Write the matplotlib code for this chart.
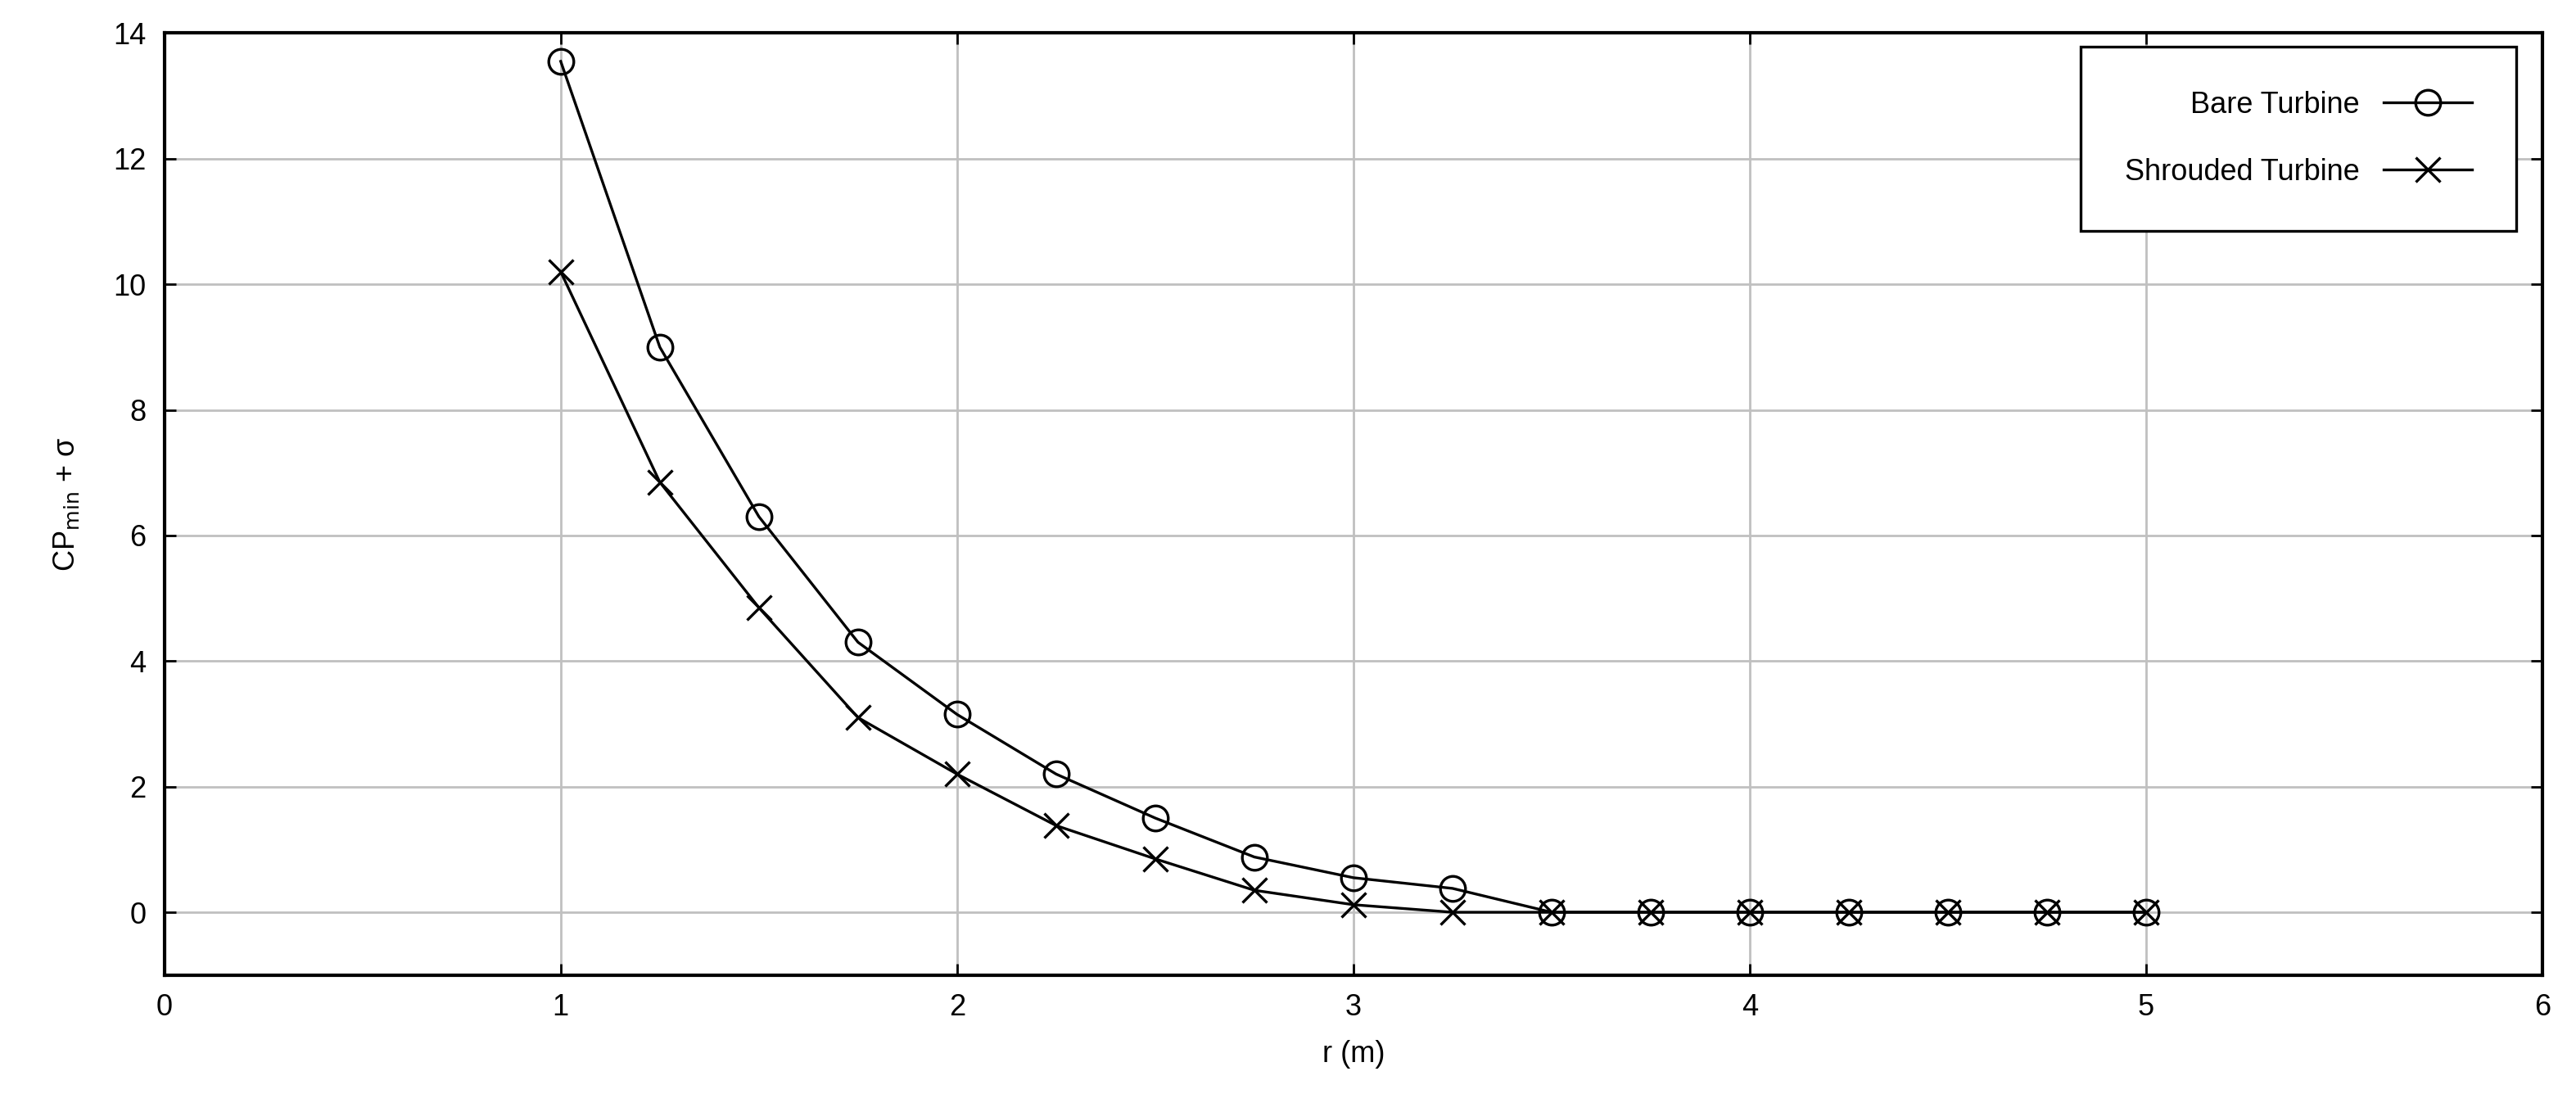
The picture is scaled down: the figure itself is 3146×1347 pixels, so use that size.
import numpy as np
import matplotlib.pyplot as plt

r = [1.0, 1.25, 1.5, 1.75, 2.0, 2.25, 2.5, 2.75, 3.0, 3.25, 3.5, 3.75, 4.0, 4.25, 4.5, 4.75, 5.0]
bare = [13.55, 9.0, 6.3, 4.3, 3.15, 2.2, 1.5, 0.88, 0.55, 0.38, 0.0, 0.0, 0.0, 0.0, 0.0, 0.0, 0.0]
shrouded = [10.2, 6.85, 4.85, 3.1, 2.2, 1.38, 0.85, 0.35, 0.12, 0.0, 0.0, 0.0, 0.0, 0.0, 0.0, 0.0, 0.0]

plt.rcParams["font.family"] = ["Liberation Sans", "DejaVu Sans"]
plt.rcParams["font.size"] = 13

fig = plt.figure(figsize=(15.73, 6.735), dpi=200)
ax = fig.add_axes([0.0638, 0.116, 0.9232, 0.854])

ax.plot(r, bare, color="black", lw=1.2, marker="o", ms=11, mfc="none",
        mec="black", mew=1.2, label="Bare Turbine")
ax.plot(r, shrouded, color="black", lw=1.2, marker="x", ms=11,
        mew=1.2, label="Shrouded Turbine")

ax.set_xlim(0, 6)
ax.set_ylim(-1, 14)
ax.set_xticks(range(0, 7))
ax.set_yticks(range(0, 15, 2))
ax.grid(True, color="#c0c0c0", lw=1.0)
ax.set_axisbelow(True)
for s in ax.spines.values():
    s.set_linewidth(1.5)
ax.tick_params(direction="in", length=5, width=1, top=True, right=True, pad=8)
ax.set_xlabel("r (m)", labelpad=8)
ax.set_ylabel(r"CP$_{\mathrm{min}}$ + σ", labelpad=14)

leg = ax.legend(loc="upper right", markerfirst=False, fancybox=False,
                edgecolor="black", framealpha=1, borderpad=1.5,
                labelspacing=1.3, handlelength=3.0, borderaxespad=0,
                bbox_to_anchor=(0.989, 0.986))
leg.get_frame().set_linewidth(1.2)
fig.canvas.draw()
leg.get_frame().set_bounds(*leg.get_frame().get_bbox().bounds)

fig.savefig("out.png", dpi=200)
